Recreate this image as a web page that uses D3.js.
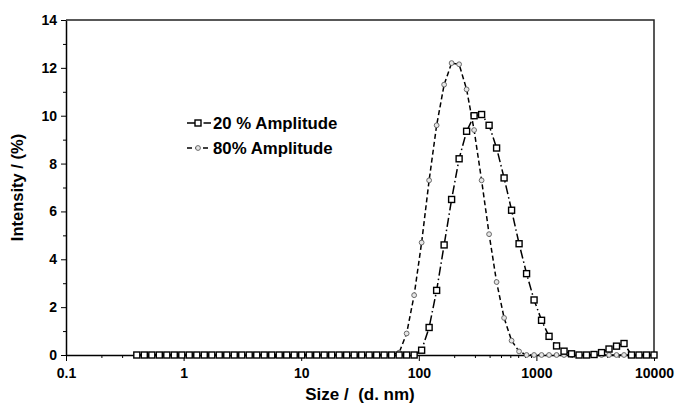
<!DOCTYPE html>
<html>
<head>
<meta charset="utf-8">
<script src="https://cdn.jsdelivr.net/npm/d3@7"></script>
<style>
	body { margin: 0; background: #fff; }
	svg text { font-family: "Liberation Sans", Arial, sans-serif; font-weight: bold; fill: #000; white-space: pre; }
</style>
</head>
<body>
<div id="chart"></div>
<script>
var WIDTH = 676;
var HEIGHT = 407;

// Zetasizer size bins (d. nm)
var sizes = [0.4, 0.4632, 0.5365, 0.6213, 0.7195, 0.8332, 0.9649, 1.117, 1.294, 1.499,
	1.736, 2.01, 2.328, 2.696, 3.122, 3.615, 4.187, 4.849, 5.615, 6.503,
	7.531, 8.721, 10.1, 11.7, 13.54, 15.69, 18.17, 21.04, 24.36, 28.21,
	32.67, 37.84, 43.82, 50.75, 58.77, 68.06, 78.82, 91.28, 105.7, 122.4,
	141.8, 164.2, 190.1, 220.2, 255, 295.3, 342, 396.1, 458.7, 531.2,
	615.1, 712.4, 825, 955.4, 1106, 1281, 1484, 1718, 1990, 2305,
	2669, 3091, 3580, 4145, 4801, 5560, 6439, 7456, 8635, 10000];

var amp20 = [0, 0, 0, 0, 0, 0, 0, 0, 0, 0,
	0, 0, 0, 0, 0, 0, 0, 0, 0, 0,
	0, 0, 0, 0, 0, 0, 0, 0, 0, 0,
	0, 0, 0, 0, 0, 0, 0, 0, 0.2, 1.15,
	2.7, 4.6, 6.5, 8.2, 9.35, 10.0, 10.05, 9.6, 8.65, 7.4,
	6.05, 4.65, 3.4, 2.3, 1.45, 0.78, 0.38, 0.16, 0.05, 0,
	0, 0.02, 0.1, 0.25, 0.37, 0.48, 0, 0, 0, 0];

var amp80 = [0, 0, 0, 0, 0, 0, 0, 0, 0, 0,
	0, 0, 0, 0, 0, 0, 0, 0, 0, 0,
	0, 0, 0, 0, 0, 0, 0, 0, 0, 0,
	0, 0, 0, 0, 0, 0.1, 0.9, 2.5, 4.7, 7.3,
	9.6, 11.3, 12.2, 12.15, 11.1, 9.4, 7.3, 5.05, 3.05, 1.55,
	0.6, 0.15, 0, 0, 0, 0, 0, 0, 0, 0,
	0, 0, 0, 0, 0, 0, 0, 0, 0, 0];

var xTicks = [0.1, 1, 10, 100, 1000, 10000];
var xTickLabels = ['0.1', '1', '10', '100', '1000', '10000'];
var yTicks = [0, 2, 4, 6, 8, 10, 12, 14];
var seriesNames = ['20 % Amplitude', '80% Amplitude'];

var margin = {left: 66, right: 22, top: 20, bottom: 52};

var svg = d3.select('#chart').append('svg')
	.attr('width', WIDTH)
	.attr('height', HEIGHT);

var x = d3.scaleLog().domain([0.1, 10000]).range([margin.left, WIDTH - margin.right]);
var y = d3.scaleLinear().domain([0, 14]).range([HEIGHT - margin.bottom, margin.top]);

// minor ticks
var xMinor = [];
xTicks.slice(0, -1).forEach(function(d) {
	for (var k = 2; k < 10; k++) xMinor.push(d * k);
});
var yMinor = d3.range(1, 14, 2);

svg.append('g')
	.attr('transform', 'translate(0,' + y(0) + ')')
	.call(d3.axisBottom(x).tickValues(xMinor).tickSize(3).tickFormat(''))
	.call(function(g) { g.select('.domain').remove(); });

svg.append('g')
	.attr('transform', 'translate(' + x(0.1) + ',0)')
	.call(d3.axisLeft(y).tickValues(yMinor).tickSize(3).tickFormat(''))
	.call(function(g) { g.select('.domain').remove(); });

var xAxis = svg.append('g')
	.attr('transform', 'translate(0,' + y(0) + ')')
	.call(d3.axisBottom(x).tickValues(xTicks).tickSize(6).tickSizeOuter(0)
		.tickFormat(function(d, i) { return xTickLabels[i]; }));
xAxis.selectAll('text').attr('font-size', 14).attr('dy', '1.0em').attr('font-family', null);

var yAxis = svg.append('g')
	.attr('transform', 'translate(' + x(0.1) + ',0)')
	.call(d3.axisLeft(y).tickValues(yTicks).tickSize(5).tickSizeOuter(0));
yAxis.selectAll('text').attr('font-size', 14).attr('x', -9).attr('font-family', null);

svg.selectAll('.tick line').attr('stroke', '#000');
svg.selectAll('.domain').attr('stroke', '#000').attr('stroke-width', 1.5);

// top and right border
svg.append('path')
	.attr('d', 'M' + x(0.1) + ',' + y(14) + 'H' + x(10000) + 'V' + y(0))
	.attr('fill', 'none')
	.attr('stroke', '#222')
	.attr('stroke-width', 1.5);

// axis titles
svg.append('text')
	.attr('x', (x(0.1) + x(10000)) / 2)
	.attr('y', 400)
	.attr('text-anchor', 'middle')
	.attr('font-size', 17)
	.text('Size /  (d. nm)');

svg.append('text')
	.attr('transform', 'translate(23,' + ((y(0) + y(14)) / 2) + ') rotate(-90)')
	.attr('text-anchor', 'middle')
	.attr('font-size', 16.5)
	.text('Intensity / (%)');

var line = d3.line()
	.x(function(d) { return x(d[0]); })
	.y(function(d) { return y(d[1]); });

var data80 = sizes.map(function(s, i) { return [s, amp80[i]]; });
var data20 = sizes.map(function(s, i) { return [s, amp20[i]]; });

var DASH80 = '5,3';
var DASH20 = '9,3,1.5,3';

function drawCircles(sel, data) {
	sel.selectAll('circle').data(data).enter().append('circle')
		.attr('cx', function(d) { return x(d[0]); })
		.attr('cy', function(d) { return y(d[1]); })
		.attr('r', 2.4)
		.attr('fill', '#e6e6e6')
		.attr('stroke', '#6a6a6a')
		.attr('stroke-width', 1);
}

function drawSquares(sel, data) {
	sel.selectAll('rect').data(data).enter().append('rect')
		.attr('x', function(d) { return x(d[0]) - 3; })
		.attr('y', function(d) { return y(d[1]) - 3; })
		.attr('width', 6)
		.attr('height', 6)
		.attr('fill', '#fff')
		.attr('stroke', '#000')
		.attr('stroke-width', 1.4);
}

// 80% series
svg.append('path')
	.datum(data80)
	.attr('d', line)
	.attr('fill', 'none')
	.attr('stroke', '#000')
	.attr('stroke-width', 1.5)
	.attr('stroke-dasharray', DASH80);
drawCircles(svg.append('g'), data80);

// 20% series
svg.append('path')
	.datum(data20)
	.attr('d', line)
	.attr('fill', 'none')
	.attr('stroke', '#000')
	.attr('stroke-width', 1.5)
	.attr('stroke-dasharray', DASH20);
drawSquares(svg.append('g'), data20);

// legend
var legend = svg.append('g');
var legY = [123, 148];

legend.append('line')
	.attr('x1', 187).attr('x2', 211).attr('y1', legY[0]).attr('y2', legY[0])
	.attr('stroke', '#000').attr('stroke-width', 1.5).attr('stroke-dasharray', DASH20);
legend.append('line')
	.attr('x1', 187).attr('x2', 211).attr('y1', legY[1]).attr('y2', legY[1])
	.attr('stroke', '#000').attr('stroke-width', 1.5).attr('stroke-dasharray', DASH80);

legend.append('rect')
	.attr('x', 195).attr('y', legY[0] - 3).attr('width', 6).attr('height', 6)
	.attr('fill', '#fff').attr('stroke', '#000').attr('stroke-width', 1.4);
legend.append('circle')
	.attr('cx', 198).attr('cy', legY[1]).attr('r', 2.4)
	.attr('fill', '#e6e6e6').attr('stroke', '#6a6a6a').attr('stroke-width', 1);

legend.selectAll('text.leg').data(seriesNames).enter().append('text')
	.attr('class', 'leg')
	.attr('x', 213)
	.attr('y', function(d, i) { return legY[i]; })
	.attr('dy', '0.36em')
	.attr('font-size', 16.8)
	.text(function(d) { return d; });
</script>
</body>
</html>
